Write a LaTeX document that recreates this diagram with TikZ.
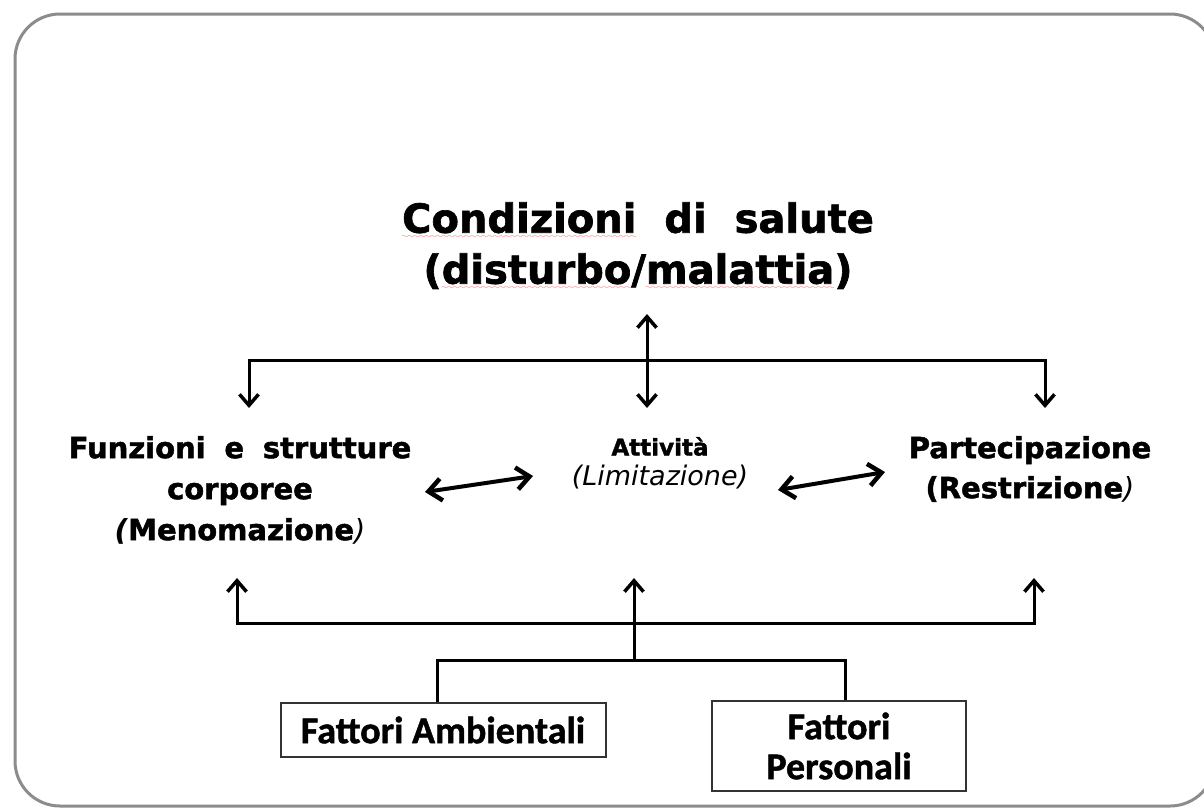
\documentclass[tikz,border=0pt]{standalone}
\usepackage{fontspec}
\setmainfont{DejaVu Sans}[BoldFeatures={FakeBold=1.6}]
\newfontfamily\boxfont{Carlito}[BoldFeatures={FakeBold=1.2}]
\usetikzlibrary{arrows.meta}

% red wavy underline, as left by a spell checker
\font\wavefont=lasy8 \relax
\newsavebox\wavebox
\newcommand\spellwave[1]{\sbox\wavebox{#1}\leavevmode
  \rlap{\textcolor{red!70}{\lower6pt\hbox to\wd\wavebox{\xleaders\hbox{\wavefont\char58}\hfill}}}%
  \usebox\wavebox}

\begin{document}
\begin{tikzpicture}[x=1pt, y=-1pt, line join=miter]

    \tikzset{%
      frame/.style   = {draw=black!45, line width=3pt, rounded corners=45pt},
      tree/.style    = {line width=3pt},
      pair/.style    = {line width=4pt},
      barb/.tip      = {Straight Barb[length=11pt, width=19pt, line width=3.5pt]},
      wide barb/.tip = {Straight Barb[length=13pt, width=22pt, line width=4.5pt]},
      label/.style   = {align=center, inner sep=0pt},
      factor/.style  = {draw=black!80, line width=2pt, align=center, inner sep=2pt,
                        font=\boxfont\fontsize{38}{40}\selectfont\bfseries}
    }

    \useasboundingbox (0,0) rectangle (1204,807);
    \clip (0,0) rectangle (1204,807);

    % outer frame, its right side runs off the page
    \draw[frame] (15,14) rectangle (1215,806);

    % health condition
    \node[label, font=\fontsize{40}{51}\selectfont\bfseries] (health) at (638,246)
      {\spellwave{Condizioni}\hspace{0.35em} di\hspace{0.35em} salute\\
       (\spellwave{disturbo}/\spellwave{malattia})};

    % the three components
    \node[label, font=\fontsize{29}{41}\selectfont\bfseries] (body) at (240,490)
      {Funzioni\hspace{0.3em} e\hspace{0.3em} strutture\\corporee\\
       \textit{(}Menomazione{\mdseries\itshape)}};
    \node[label] (activity) at (660,463)
      {{\fontsize{23}{26}\selectfont\bfseries Attivit\`a}\\[8pt]
       {\fontsize{27}{32}\selectfont\itshape (Limitazione)}};
    \node[label, font=\fontsize{29}{40}\selectfont\bfseries] (participation) at (1030,469)
      {Partecipazione\\(Restrizione{\mdseries\itshape)}};

    % contextual factors
    \node[factor, minimum width=325pt, minimum height=54pt] (environment) at (443,730)
      {Fattori Ambientali};
    \node[factor, minimum width=254pt, minimum height=90pt] (personal) at (839,746)
      {Fattori\\Personali};

    % junction points of the two trees
    \coordinate (upper tip) at (647,314);
    \coordinate (upper foot) at (647,408);
    \coordinate (upper bar) at (647,360);
    \coordinate (body top) at (249,408);
    \coordinate (part top) at (1045,408);
    \coordinate (lower bar) at (634,623);
    \coordinate (body foot) at (237,578);
    \coordinate (act foot) at (634,578);
    \coordinate (part foot) at (1034,578);
    \coordinate (factor join) at (634,660);

    \draw[tree, barb-barb] (upper tip) -- (upper foot);
    \draw[tree, barb-barb] (body top) |- (upper bar) -| (part top);

    \draw[tree, barb-barb] (body foot) |- (lower bar) -| (part foot);
    \draw[tree, -barb] (factor join) -- (act foot);
    \draw[tree] ([xshift=-6pt]environment.north) |- (factor join)
                -| ([xshift=6pt]personal.north);

    % interactions between the components
    \coordinate (body east) at (425,492);
    \coordinate (act west) at (533,476);
    \coordinate (act east) at (778,490);
    \coordinate (part west) at (885,472);
    \draw[pair, wide barb-wide barb] (body east) -- (act west);
    \draw[pair, wide barb-wide barb] (act east) -- (part west);

\end{tikzpicture}
\end{document}
